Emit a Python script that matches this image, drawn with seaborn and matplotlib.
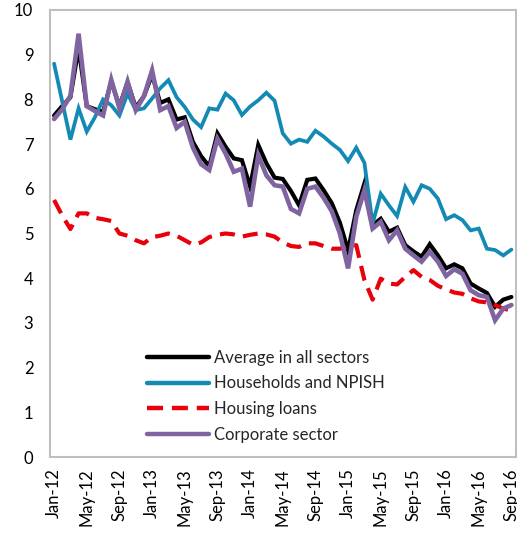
import matplotlib
matplotlib.use("Agg")
import matplotlib.pyplot as plt
import seaborn as sns
import pandas as pd

# Monthly interest rates on new loans, Jan-12 .. Sep-16 (per cent)
months = pd.date_range("2012-01-01", "2016-09-01", freq="MS").strftime("%b-%y").tolist()

average_all = [7.64, 7.85, 8.05, 9.15, 7.85, 7.78, 7.72, 8.40, 7.85, 8.38,
               7.82, 8.07, 8.55, 7.92, 8.00, 7.55, 7.60, 7.05, 6.73, 6.50,
               7.24, 6.94, 6.68, 6.64, 6.05, 6.98, 6.57, 6.25, 6.22, 5.95,
               5.63, 6.20, 6.23, 5.97, 5.68, 5.24, 4.62, 5.52, 6.12, 5.19,
               5.33, 5.04, 5.13, 4.74, 4.60, 4.48, 4.76, 4.51, 4.22, 4.31,
               4.22, 3.88, 3.77, 3.67, 3.36, 3.52, 3.58]

households = [8.80, 7.95, 7.10, 7.80, 7.28, 7.60, 8.00, 7.87, 7.64, 8.13,
              7.76, 7.80, 8.02, 8.25, 8.43, 8.05, 7.83, 7.55, 7.38, 7.80,
              7.77, 8.13, 7.98, 7.65, 7.84, 7.98, 8.15, 7.97, 7.24, 7.01,
              7.10, 7.05, 7.30, 7.17, 7.01, 6.87, 6.62, 6.92, 6.58, 5.22,
              5.89, 5.63, 5.39, 6.04, 5.71, 6.08, 6.00, 5.78, 5.32, 5.41,
              5.30, 5.07, 5.11, 4.66, 4.63, 4.51, 4.64]

housing = [5.75, 5.40, 5.10, 5.45, 5.45, 5.35, 5.32, 5.28, 5.00, 4.95,
           4.85, 4.78, 4.92, 4.95, 5.00, 4.95, 4.85, 4.75, 4.80, 4.92,
           4.97, 5.00, 4.98, 4.93, 4.97, 5.00, 4.98, 4.93, 4.80, 4.72,
           4.70, 4.78, 4.78, 4.72, 4.66, 4.66, 4.70, 4.74, 3.96, 3.52,
           3.99, 3.88, 3.86, 4.03, 4.18, 4.03, 3.96, 3.83, 3.75, 3.68,
           3.65, 3.55, 3.48, 3.46, 3.40, 3.32, 3.28]

corporate = [7.56, 7.78, 8.08, 9.47, 7.85, 7.74, 7.64, 8.44, 7.80, 8.40,
             7.76, 8.07, 8.65, 7.76, 7.85, 7.36, 7.50, 6.92, 6.55, 6.42,
             7.12, 6.79, 6.38, 6.45, 5.60, 6.75, 6.30, 6.08, 6.05, 5.55,
             5.45, 6.00, 6.05, 5.80, 5.50, 5.00, 4.22, 5.37, 5.97, 5.11,
             5.26, 4.85, 5.07, 4.66, 4.51, 4.37, 4.59, 4.37, 4.05, 4.20,
             4.10, 3.73, 3.62, 3.58, 3.06, 3.32, 3.40]

series_names = ["Average in all sectors", "Households and NPISH",
                "Housing loans", "Corporate sector"]

df = pd.DataFrame({
    "idx": list(range(len(months))),
    series_names[0]: average_all,
    series_names[1]: households,
    series_names[2]: housing,
    series_names[3]: corporate,
})

sns.set_style("white")
plt.rcParams["font.family"] = ["Lato", "DejaVu Sans"]

fig = plt.figure(figsize=(5.17, 5.35), dpi=100)
ax = fig.add_axes([50 / 517, 1 - 457 / 535, 465.5 / 517, 447 / 535])

styles = {
    series_names[0]: dict(color="#000000", lw=3.0, ls="-"),
    series_names[1]: dict(color="#138AB4", lw=2.7, ls="-"),
    series_names[2]: dict(color="#E8000B", lw=3.0, ls=(0, (3.6, 2.0))),
    series_names[3]: dict(color="#8064A2", lw=3.3, ls="-"),
}

for name in series_names:
    st = styles[name]
    sns.lineplot(data=df, x="idx", y=name, ax=ax, color=st["color"],
                 linewidth=st["lw"], linestyle=st["ls"], label=name,
                 solid_joinstyle="miter", dash_capstyle="butt")

ax.set_xlim(-0.5, len(months) - 0.5)
ax.set_ylim(0, 10)
ax.set_yticks(range(0, 11))
ax.set_xlabel("")
ax.set_ylabel("")

label_pos = list(range(0, len(months), 4))
ax.set_xticks(label_pos)
ax.set_xticklabels([months[i] for i in label_pos], rotation=90)
ax.set_xticks([p - 0.5 for p in range(0, len(months), 4)], minor=True)

ax.tick_params(axis="x", which="major", length=0, pad=8, labelsize=12,
               colors="#000000")
ax.tick_params(axis="x", which="minor", direction="in", length=4,
               width=1, color="#BFBFBF")
ax.tick_params(axis="y", which="major", direction="in", length=4, width=1,
               color="#BFBFBF", pad=12, labelsize=12, labelcolor="#000000")

for side in ["left", "bottom", "top", "right"]:
    ax.spines[side].set_visible(True)
    ax.spines[side].set_color("#BFBFBF")
    ax.spines[side].set_linewidth(1.5)

leg = ax.legend(loc="upper left", bbox_to_anchor=(0.208, 0.24), frameon=False,
                fontsize=12, handlelength=3.75, handletextpad=0.3,
                labelspacing=0.58, borderaxespad=0, borderpad=0)
for line in leg.get_lines():
    line.set_linewidth(3.2)

fig.savefig("out.png", dpi=100)
